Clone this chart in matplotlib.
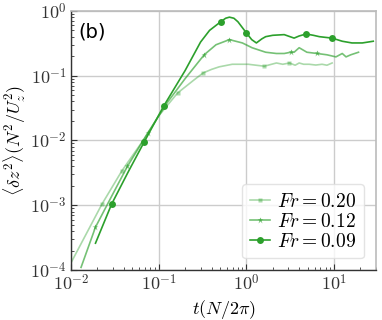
import numpy as np
import matplotlib
matplotlib.use("Agg")
import matplotlib.pyplot as plt
from matplotlib.lines import Line2D
from matplotlib.ticker import FuncFormatter, LogLocator

plt.rcParams['mathtext.fontset'] = 'cm'

# ---- data ----
labels = [r'$Fr = 0.20$', r'$Fr = 0.12$', r'$Fr = 0.09$']

t20 = [0.01, 0.0225, 0.038, 0.068, 0.1, 0.164, 0.25, 0.32, 0.4, 0.49, 0.69, 1.05, 1.6, 2.2, 2.6, 3.1, 3.6, 4.0, 4.5, 5.2, 6.2, 7.3, 8.3, 9.5]
v20 = [1.3e-4, 1.04e-3, 3.4e-3, 0.0105, 0.024, 0.054, 0.085, 0.11, 0.125, 0.137, 0.15, 0.15, 0.14, 0.157, 0.15, 0.157, 0.145, 0.157, 0.15, 0.15, 0.146, 0.15, 0.145, 0.157]
m20_t = [0.0225, 0.038, 0.164, 0.32, 1.6, 3.1]
m20_v = [1.04e-3, 3.4e-3, 0.054, 0.11, 0.14, 0.157]

t12 = [0.013, 0.019, 0.03, 0.044, 0.075, 0.126, 0.2, 0.33, 0.45, 0.64, 0.9, 1.16, 1.66, 2.2, 2.7, 3.2, 3.5, 4.0, 4.9, 6.4, 8.3, 10.5, 12.4, 13.7, 15.5, 19]
v12 = [1.1e-4, 4.6e-4, 1.5e-3, 0.004, 0.013, 0.039, 0.09, 0.21, 0.30, 0.36, 0.32, 0.27, 0.23, 0.22, 0.22, 0.23, 0.23, 0.27, 0.23, 0.22, 0.21, 0.195, 0.22, 0.195, 0.21, 0.23]
m12_t = [0.019, 0.044, 0.075, 0.33, 0.64, 3.2, 6.4]
m12_v = [4.6e-4, 0.004, 0.013, 0.21, 0.36, 0.23, 0.22]

t09 = [0.019, 0.029, 0.045, 0.068, 0.114, 0.2, 0.3, 0.38, 0.51, 0.58, 0.64, 0.72, 0.8, 1.0, 1.15, 1.3, 1.5, 1.66, 2.0, 2.7, 3.5, 4.0, 4.8, 5.8, 6.8, 8.0, 9.5, 12.4, 16, 21, 28]
v09 = [2.6e-4, 1.04e-3, 3.3e-3, 9.4e-3, 0.034, 0.12, 0.33, 0.50, 0.68, 0.77, 0.80, 0.77, 0.68, 0.457, 0.36, 0.32, 0.37, 0.40, 0.42, 0.43, 0.38, 0.41, 0.44, 0.42, 0.40, 0.39, 0.38, 0.34, 0.32, 0.32, 0.34]
m09_t = [0.029, 0.068, 0.114, 0.51, 1.0, 4.8, 9.5]
m09_v = [1.04e-3, 9.4e-3, 0.034, 0.68, 0.457, 0.44, 0.38]

series = [
    (t20, v20, m20_t, m20_v, 's', 3.5, 0.4),
    (t12, v12, m12_t, m12_v, '*', 4.5, 0.65),
    (t09, v09, m09_t, m09_v, 'o', 5, 1.0),
]

color = '#2ca02c'

fig = plt.figure(figsize=(3.82, 3.20), dpi=100)
ax = fig.add_axes([0.186, 0.156, 0.798, 0.810])

handles = []
for (t, v, mt, mv, mk, ms, a), lab in zip(series, labels):
    ax.plot(t, v, '-', color=color, alpha=a, lw=1.2)
    ax.plot(mt, mv, ls='none', marker=mk, color=color, alpha=a, ms=ms, mec='none')
    handles.append(Line2D([], [], color=color, alpha=a, lw=1.2, marker=mk, ms=ms, mec='none', label=lab))

ax.set_xscale('log')
ax.set_yscale('log')
ax.set_xlim(0.01, 30)
ax.set_ylim(1e-4, 1)

fmt = FuncFormatter(lambda val, pos: r'$10^{%d}$' % int(round(np.log10(val))))
ax.xaxis.set_major_locator(LogLocator(base=10, numticks=10))
ax.yaxis.set_major_locator(LogLocator(base=10, numticks=10))
ax.xaxis.set_major_formatter(fmt)
ax.yaxis.set_major_formatter(fmt)
ax.tick_params(which='both', direction='in', labelsize=13, colors='#333333', pad=3)
ax.tick_params(which='major', length=4, width=0.8)
ax.tick_params(which='minor', length=2, width=0.6)

ax.grid(True, which='major', color='#cccccc', lw=1.0)
ax.set_axisbelow(True)
for s in ['top', 'right']:
    ax.spines[s].set_color('#bbbbbb')
    ax.spines[s].set_linewidth(1.2)
for s in ['left', 'bottom']:
    ax.spines[s].set_color('#333333')
    ax.spines[s].set_linewidth(1.0)

ax.set_xlabel(r'$t(N/2\pi)$', fontsize=13, labelpad=2)
ax.set_ylabel(r'$\langle\delta z^2\rangle(N^2/U_z^2)$', fontsize=13, labelpad=2)

ax.text(0.025, 0.955, '(b)', transform=ax.transAxes, fontsize=14, va='top', ha='left')

leg = ax.legend(handles=handles, loc='lower right', fontsize=14, handlelength=1.0,
                handletextpad=0.4, labelspacing=0.05, borderaxespad=0.6,
                framealpha=0.8, edgecolor='#dddddd', fancybox=True)

fig.savefig('out.png', dpi=100)
